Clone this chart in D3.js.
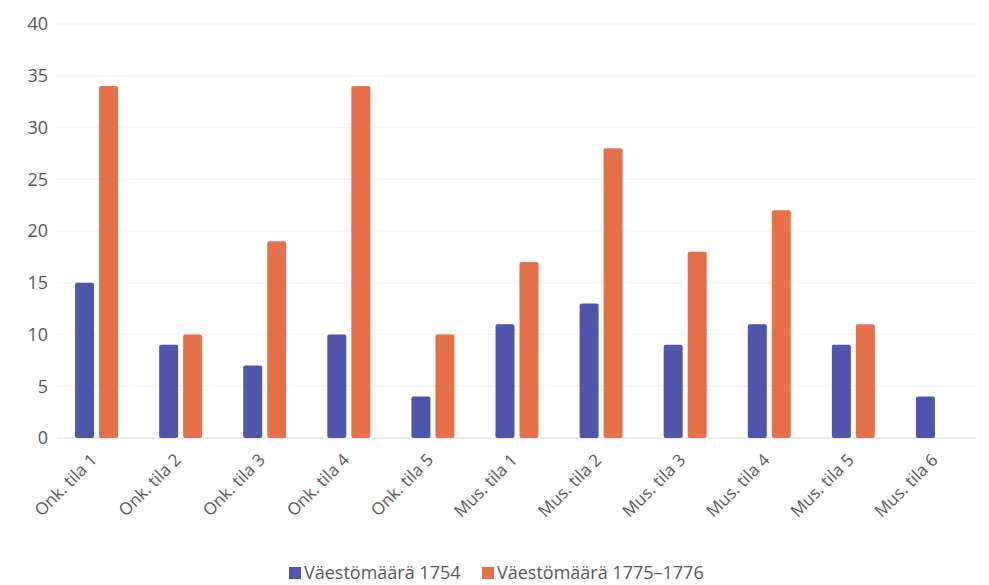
<!DOCTYPE html>
<html><head><meta charset="utf-8">
<script src="https://cdn.jsdelivr.net/npm/d3@7"></script>
<style>body{margin:0;background:#fff}svg{display:block}</style>
</head><body>
<svg id="c" width="989" height="585"></svg>
<script>
const categories = ["Onk. tila 1","Onk. tila 2","Onk. tila 3","Onk. tila 4","Onk. tila 5","Mus. tila 1","Mus. tila 2","Mus. tila 3","Mus. tila 4","Mus. tila 5","Mus. tila 6"];
const seriesNames = ["Väestömäärä 1754","Väestömäärä 1775–1776"];
const pop1754 = [15,9,7,10,4,11,13,9,11,9,4];
const pop1775 = [34,10,19,34,10,17,28,18,22,11,null];
const yTicks = [0,5,10,15,20,25,30,35,40];
const colors = ["#4f55aa","#e5714a"];

const svg = d3.select("#c");
const W = 989, H = 585;
const x = d3.scaleBand().domain(categories).range([54.5, 979.5]).paddingInner(0).paddingOuter(0);
const y = d3.scaleLinear().domain([0,40]).range([438, 24]);
const font = "'Open Sans', sans-serif";

// gridlines
svg.append("g").selectAll("line").data(yTicks).join("line")
  .attr("x1", 57).attr("x2", 976)
  .attr("y1", d=>y(d)).attr("y2", d=>y(d))
  .attr("stroke", d=> d===0 ? "#e6e6e6" : "#f3f3f3").attr("stroke-width", 1.5);

// y axis
const ya = svg.append("g").attr("transform", `translate(48,0)`)
  .call(d3.axisLeft(y).tickValues(yTicks).tickSize(0).tickPadding(0));
ya.select(".domain").remove();
ya.selectAll("text").attr("font-family", font).attr("font-size", 18).attr("fill", "#595959");

// bars
const bw = 19, gap = 5;
const series = [pop1754, pop1775];
series.forEach((vals, si) => {
  svg.append("g").selectAll("rect").data(categories.map((c,i)=>({c, v: vals[i]})).filter(d=>d.v!=null))
    .join("rect")
    .attr("x", d => x(d.c) + x.bandwidth()/2 + (si===0 ? -(bw+gap/2) : gap/2))
    .attr("width", bw)
    .attr("y", d => y(d.v))
    .attr("height", d => y(0) - y(d.v))
    .attr("rx", 2)
    .attr("fill", colors[si]);
});

// x labels
const xa = svg.append("g").attr("transform", `translate(0,${y(0)})`)
  .call(d3.axisBottom(x).tickSize(0).tickPadding(0));
xa.select(".domain").remove();
xa.selectAll("text")
  .attr("font-family", font).attr("font-size", 17).attr("fill", "#595959")
  .attr("text-anchor", "end").attr("dy", 0)
  .attr("transform", "translate(1.5,23) rotate(-45)");

// legend
const lg = svg.append("g").attr("transform", "translate(0,579)");
const items = [{x:289, n:seriesNames[0], c:colors[0]},{x:482, n:seriesNames[1], c:colors[1]}];
items.forEach(it => {
  lg.append("rect").attr("x", it.x).attr("y", -12).attr("width", 12).attr("height", 12).attr("fill", it.c);
  lg.append("text").attr("x", it.x+15).attr("y", 0).text(it.n)
    .attr("font-family", font).attr("font-size", 18).attr("fill", "#595959");
});
</script>
</body></html>
